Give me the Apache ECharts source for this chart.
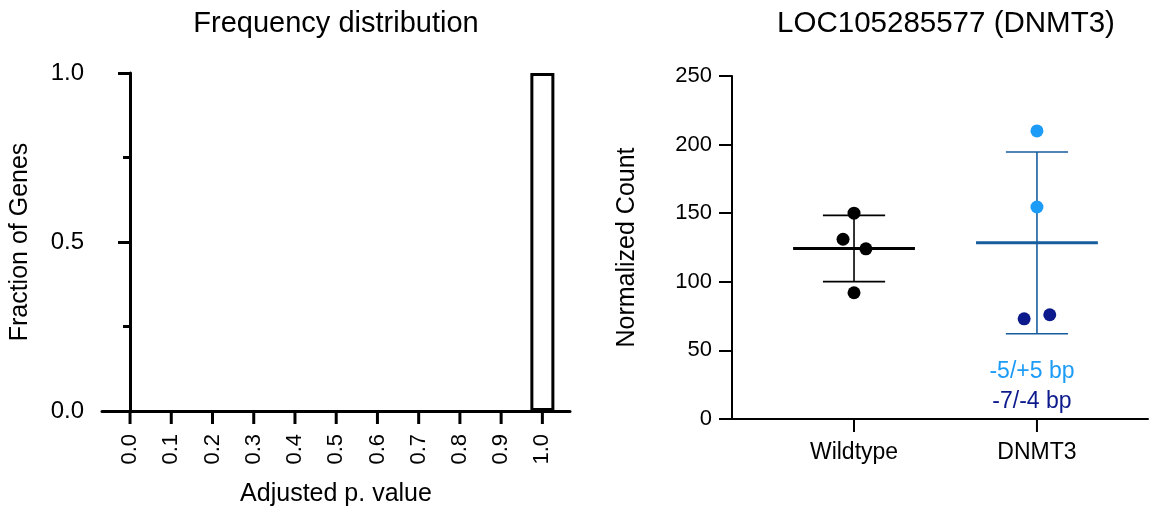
<!DOCTYPE html>
<html>
<head>
<meta charset="utf-8">
<title>Frequency distribution / LOC105285577 (DNMT3)</title>
<script src="https://cdn.jsdelivr.net/npm/echarts@6/dist/echarts.min.js"></script>
<style>
  html, body { margin: 0; padding: 0; background: #fff; }
  #chart { width: 1150px; height: 512px; }
</style>
</head>
<body>
<div id="chart"></div>
<script>
// Histogram of adjusted p-values (left panel)
const histBins = [0.0, 0.1, 0.2, 0.3, 0.4, 0.5, 0.6, 0.7, 0.8, 0.9, 1.0];
const histFractions = [0, 0, 0, 0, 0, 0, 0, 0, 0, 0, 1.0];
const histTickLabels = ['0.0', '0.1', '0.2', '0.3', '0.4', '0.5', '0.6', '0.7', '0.8', '0.9', '1.0'];

// Normalized counts per genotype (right panel)
const groups = ['Wildtype', 'DNMT3'];
const groupPositions = [1, 2];
const wildtypeCounts = [150, 131, 124, 92];
const wildtypeJitter = [0, -0.06, 0.065, 0];
const dnmtPlus5Counts = [210, 154.5];
const dnmtPlus5Jitter = [0, 0];
const dnmtMinus7Counts = [73, 76];
const dnmtMinus7Jitter = [-0.07, 0.07];
const alleleLabels = ['-5/+5 bp', '-7/-4 bp'];

const FONT = 'Liberation Sans, Arial, Helvetica, sans-serif';
const BLACK = '#000000';
const LIGHT_BLUE = '#1c9bf7';
const NAVY = '#0c1a8c';
const STEEL = '#165d9e';

function meanSd(arr) {
  const m = arr.reduce((a, b) => a + b, 0) / arr.length;
  const v = arr.reduce((a, b) => a + (b - m) * (b - m), 0) / (arr.length - 1);
  return [m, Math.sqrt(v)];
}

const wtStats = meanSd(wildtypeCounts);
const dnStats = meanSd(dnmtPlus5Counts.concat(dnmtMinus7Counts));
const statData = [
  [groupPositions[0], wtStats[0], wtStats[1]],
  [groupPositions[1], dnStats[0], dnStats[1]]
];
const statColors = [BLACK, STEEL];

function points(counts, jitter, groupPos) {
  return counts.map((c, i) => [groupPos + jitter[i], c]);
}

const chart = echarts.init(document.getElementById('chart'), null, { renderer: 'canvas' });

const option = {
  animation: false,
  backgroundColor: '#ffffff',
  textStyle: { fontFamily: FONT, color: BLACK },
  title: [
    {
      text: 'Frequency distribution',
      left: 331, top: 4, textAlign: 'center',
      textStyle: { fontFamily: FONT, fontSize: 29, fontWeight: 'normal', color: BLACK }
    },
    {
      text: 'LOC105285577 (DNMT3)',
      left: 941, top: 4, textAlign: 'center',
      textStyle: { fontFamily: FONT, fontSize: 29.5, fontWeight: 'normal', color: BLACK }
    }
  ],
  grid: [
    { left: 102, top: 73, width: 468, height: 340, containLabel: false },
    { left: 732, top: 76, width: 416, height: 343, containLabel: false }
  ],
  xAxis: [
    {
      gridIndex: 0,
      type: 'value',
      min: -0.068,
      max: 1.067,
      name: 'Adjusted p. value',
      nameLocation: 'middle',
      nameGap: 71,
      nameTextStyle: { fontFamily: FONT, fontSize: 25, color: BLACK },
      axisLine: { show: true, onZero: false, lineStyle: { color: BLACK, width: 3 } },
      axisTick: { show: false },
      axisLabel: {
        customValues: histBins,
        rotate: 90,
        margin: 23,
        fontFamily: FONT, fontSize: 22, color: BLACK,
        formatter: v => histTickLabels[histBins.indexOf(v)] ?? ''
      },
      splitLine: { show: false }
    },
    {
      gridIndex: 1,
      type: 'value',
      min: 0.333,
      max: 2.607,
      axisLine: { show: true, onZero: false, lineStyle: { color: BLACK, width: 2 } },
      axisTick: { show: false },
      axisLabel: {
        customValues: groupPositions,
        margin: 22,
        fontFamily: FONT, fontSize: 23, color: BLACK,
        formatter: v => groups[groupPositions.indexOf(v)] ?? ''
      },
      splitLine: { show: false }
    }
  ],
  yAxis: [
    {
      gridIndex: 0,
      type: 'value',
      min: 0,
      max: 1,
      interval: 0.5,
      name: 'Fraction of Genes',
      nameLocation: 'middle',
      nameGap: 69,
      nameTextStyle: { fontFamily: FONT, fontSize: 25, color: BLACK },
      axisLine: { show: true, lineStyle: { color: BLACK, width: 3 } },
      axisTick: { show: true, length: 12, lineStyle: { color: BLACK, width: 3 } },
      minorTick: { show: true, splitNumber: 2, length: 7, lineStyle: { color: BLACK, width: 3 } },
      axisLabel: {
        margin: 18,
        fontFamily: FONT, fontSize: 24, color: BLACK,
        formatter: v => v.toFixed(1)
      },
      splitLine: { show: false },
      minorSplitLine: { show: false }
    },
    {
      gridIndex: 1,
      type: 'value',
      min: 0,
      max: 250,
      interval: 50,
      name: 'Normalized Count',
      nameLocation: 'middle',
      nameGap: 92,
      nameTextStyle: { fontFamily: FONT, fontSize: 25, color: BLACK },
      axisLine: { show: true, lineStyle: { color: BLACK, width: 2 } },
      axisTick: { show: true, length: 13, lineStyle: { color: BLACK, width: 2 } },
      axisLabel: {
        margin: 20,
        fontFamily: FONT, fontSize: 22, color: BLACK
      },
      splitLine: { show: false }
    }
  ],
  series: [
    {
      // histogram bins: hollow bars with a heavy outline (empty bins are left blank)
      type: 'bar',
      xAxisIndex: 0,
      yAxisIndex: 0,
      barWidth: 24,
      data: histBins.map((b, i) => [b, histFractions[i] > 0 ? histFractions[i] : '-']),
      itemStyle: { color: '#ffffff', borderColor: BLACK, borderWidth: 3 },
      silent: true
    },
    {
      // mean line with ±SD whiskers for each genotype
      type: 'custom',
      xAxisIndex: 1,
      yAxisIndex: 1,
      data: statData,
      silent: true,
      z: 2,
      renderItem: function (params, api) {
        const x = api.value(0);
        const m = api.value(1);
        const s = api.value(2);
        const color = statColors[params.dataIndex];
        const mL = api.coord([x - 0.333, m]);
        const mR = api.coord([x + 0.333, m]);
        const top = api.coord([x, m + s]);
        const bot = api.coord([x, m - s]);
        const capL = api.coord([x - 0.17, 0])[0];
        const capR = api.coord([x + 0.17, 0])[0];
        const thin = { stroke: color, lineWidth: 1.6 };
        return {
          type: 'group',
          children: [
            { type: 'line', shape: { x1: top[0], y1: top[1], x2: bot[0], y2: bot[1] }, style: thin },
            { type: 'line', shape: { x1: capL, y1: top[1], x2: capR, y2: top[1] }, style: thin },
            { type: 'line', shape: { x1: capL, y1: bot[1], x2: capR, y2: bot[1] }, style: thin },
            { type: 'line', shape: { x1: mL[0], y1: mL[1], x2: mR[0], y2: mR[1] }, style: { stroke: color, lineWidth: 3 } }
          ]
        };
      }
    },
    {
      type: 'scatter',
      xAxisIndex: 1,
      yAxisIndex: 1,
      symbolSize: 13,
      z: 3,
      data: points(wildtypeCounts, wildtypeJitter, groupPositions[0]),
      itemStyle: { color: BLACK, opacity: 1 },
      silent: true
    },
    {
      type: 'scatter',
      xAxisIndex: 1,
      yAxisIndex: 1,
      symbolSize: 13,
      z: 3,
      data: points(dnmtPlus5Counts, dnmtPlus5Jitter, groupPositions[1]),
      itemStyle: { color: LIGHT_BLUE, opacity: 1 },
      silent: true
    },
    {
      type: 'scatter',
      xAxisIndex: 1,
      yAxisIndex: 1,
      symbolSize: 13,
      z: 3,
      data: points(dnmtMinus7Counts, dnmtMinus7Jitter, groupPositions[1]),
      itemStyle: { color: NAVY, opacity: 1 },
      silent: true
    },
    {
      // allele legend written under the DNMT3 column
      type: 'custom',
      xAxisIndex: 1,
      yAxisIndex: 1,
      data: [[groupPositions[1], 0]],
      silent: true,
      z: 4,
      renderItem: function (params, api) {
        const base = api.coord([api.value(0), api.value(1)]);
        const cx = base[0] - 5;
        return {
          type: 'group',
          children: [
            { type: 'text', style: { x: cx, y: base[1] - 47, text: alleleLabels[0], fill: LIGHT_BLUE, font: '23px ' + FONT, align: 'center', verticalAlign: 'middle' } },
            { type: 'text', style: { x: cx, y: base[1] - 17, text: alleleLabels[1], fill: NAVY, font: '23px ' + FONT, align: 'center', verticalAlign: 'middle' } }
          ]
        };
      }
    }
  ]
};

chart.setOption(option);

// Downward tick marks under both x axes, placed through each grid's own scale
function axisTicks(gridIndex, positions, len, width) {
  return positions.map(v => {
    const p = chart.convertToPixel({ gridIndex: gridIndex }, [v, 0]);
    return {
      type: 'rect',
      z: 100,
      silent: true,
      shape: { x: p[0] - width / 2, y: p[1], width: width, height: len },
      style: { fill: BLACK }
    };
  });
}

chart.setOption({
  graphic: {
    elements: axisTicks(0, histBins, 13, 3).concat(axisTicks(1, groupPositions, 13, 2))
  }
});
</script>
</body>
</html>
